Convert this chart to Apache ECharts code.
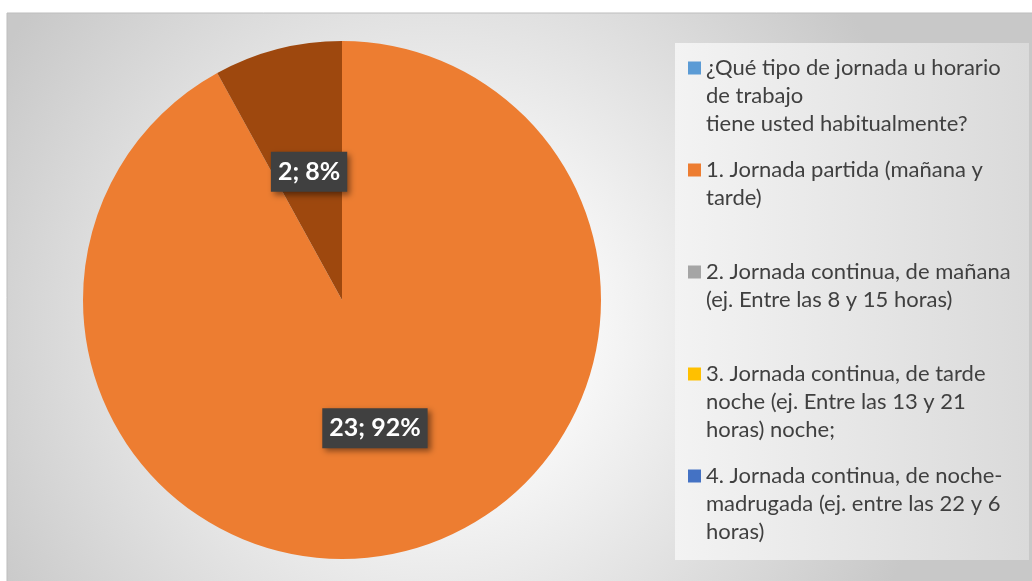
<!DOCTYPE html>
<html>
<head>
<meta charset="utf-8">
<title>Tipo de jornada</title>
<script src="https://cdn.jsdelivr.net/npm/echarts@6/dist/echarts.min.js"></script>
<style>
  html, body { margin: 0; padding: 0; background: #fff; }
  #chart { width: 1032px; height: 581px; }
</style>
</head>
<body>
<div id="chart"></div>
<script>
// categories as they show in the legend (line breaks as in the original)
const categories = [
  '¿Qué tipo de jornada u horario\nde trabajo\ntiene usted habitualmente?',
  '1. Jornada partida (mañana y\ntarde)',
  '2. Jornada continua, de mañana\n(ej. Entre las 8 y 15 horas)',
  '3. Jornada continua, de tarde\nnoche (ej. Entre las 13 y 21\nhoras) noche;',
  '4. Jornada continua, de noche-\nmadrugada (ej. entre las 22 y 6\nhoras)'
]
const values = [0, 23, 0, 0, 0]
const colors = ['#5B9BD5', '#ED7D31', '#A5A5A5', '#FFC000', '#4472C4']

// the extra slice that is drawn but not listed in the legend
const extraName = 'Otra'
const extraValue = 2
const extraColor = '#9E480E'

const lineH = 28

const chart = echarts.init(document.getElementById('chart'))

const pieData = categories.map((name, i) => ({
  name: name,
  value: values[i],
  itemStyle: { color: colors[i] },
  label: { show: values[i] > 0 }
}))
pieData.push({
  name: extraName,
  value: extraValue,
  itemStyle: { color: extraColor },
  label: { show: true }
})

chart.setOption({
  animation: false,
  graphic: [
    {
      type: 'rect',
      z: -10,
      shape: { x: 7, y: 13, width: 1030, height: 575 },
      style: {
        fill: {
          type: 'radial', x: 0.42, y: 0.55, r: 0.9,
          colorStops: [{ offset: 0, color: '#ffffff' }, { offset: 0.25, color: '#fafafa' }, { offset: 1, color: '#c8c8c8' }]
        },
        stroke: '#bdbdbd',
        lineWidth: 1
      }
    },
    {
      type: 'rect',
      z: -9,
      shape: { x: 675, y: 43, width: 354, height: 517 },
      style: {
        fill: {
          type: 'linear', x: 0, y: 0, x2: 1, y2: 0,
          colorStops: [{ offset: 0, color: '#f3f3f3' }, { offset: 1, color: '#dadada' }]
        }
      }
    }
  ],
  legend: {
    orient: 'vertical',
    left: 688,
    top: -2,
    padding: 0,
    itemGap: 102 - lineH * 5,
    itemWidth: 13,
    itemHeight: 13,
    icon: 'rect',
    selectedMode: false,
    // every entry is padded to 5 lines so the icon sits beside the first one
    formatter: function (name) {
      const n = name.split('\n').length
      return '\n\n' + name + '\n'.repeat(3 - n)
    },
    textStyle: {
      color: '#404040',
      fontFamily: 'Lato',
      fontSize: 22,
      lineHeight: lineH,
      backgroundColor: 'rgba(0,0,0,0)'
    },
    data: categories
  },
  series: [
    {
      type: 'pie',
      center: [342, 300],
      radius: 259,
      startAngle: 90,
      clockwise: true,
      itemStyle: { borderWidth: 0 },
      emphasis: { disabled: true },
      labelLine: { show: false },
      label: {
        position: 'inside',
        formatter: function (p) {
          return p.value + '; ' + Math.round(p.percent) + '%'
        },
        color: '#ffffff',
        fontFamily: 'Lato',
        fontWeight: 'bold',
        fontSize: 25,
        lineHeight: 26,
        backgroundColor: '#404040',
        padding: [7, 7],
        shadowColor: 'rgba(0,0,0,0.45)',
        shadowBlur: 6,
        shadowOffsetX: 3,
        shadowOffsetY: 3
      },
      data: pieData
    }
  ]
})
</script>
</body>
</html>
